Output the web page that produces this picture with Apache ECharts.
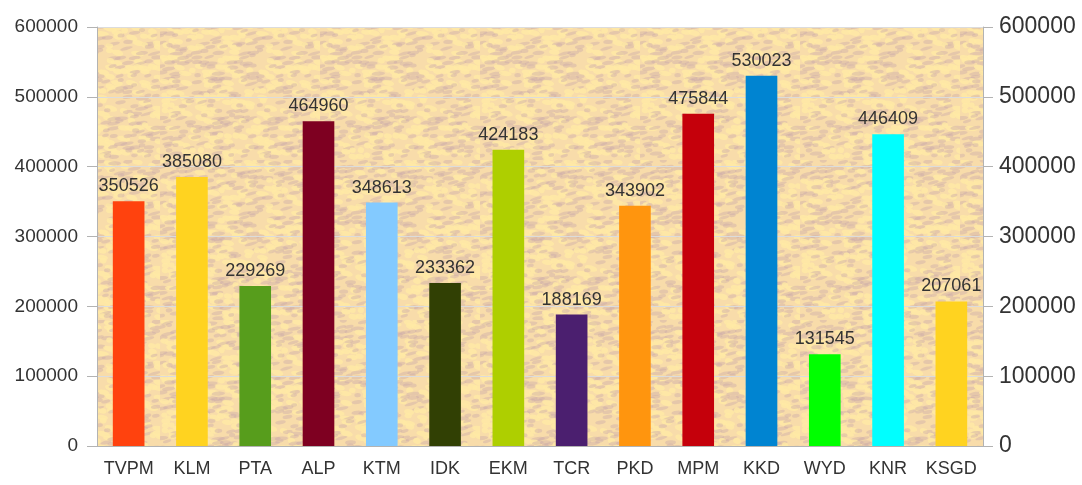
<!DOCTYPE html>
<html>
<head>
<meta charset="utf-8">
<script src="https://cdn.jsdelivr.net/npm/echarts@6/dist/echarts.min.js"></script>
<style>
html, body { margin: 0; padding: 0; background: #fff; }
#chart { width: 1082px; height: 485px; }
</style>
</head>
<body>
<div id="chart"></div>
<script>
var districts = ['TVPM', 'KLM', 'PTA', 'ALP', 'KTM', 'IDK', 'EKM', 'TCR', 'PKD', 'MPM', 'KKD', 'WYD', 'KNR', 'KSGD'];
var counts = [350526, 385080, 229269, 464960, 348613, 233362, 424183, 188169, 343902, 475844, 530023, 131545, 446409, 207061];
var barColors = ['#ff420e', '#ffd320', '#579d1c', '#7e0021', '#83caff', '#314004', '#aecf00', '#4b1f6f',
	'#ff950e', '#c5000b', '#0084d1', '#00ff00', '#00ffff', '#ffd320'];

// parchment-like texture for the plot background (deterministic blotches)
function makeTexture() {
	var c = document.createElement('canvas');
	c.width = 160; c.height = 160;
	var ctx = c.getContext('2d');
	ctx.fillStyle = '#f8dcaa';
	ctx.fillRect(0, 0, 160, 160);
	var k = 0;
	for (var y = 0; y < 160; y += 5) {
		for (var x = 0; x < 160; x += 7) {
			k++;
			var h = Math.sin(k * 12.9898) * 43758.5453;
			h = h - Math.floor(h);
			var h2 = Math.sin(k * 78.233) * 12543.77;
			h2 = h2 - Math.floor(h2);
			var cx = x + h * 6, cy = y + h2 * 4;
			ctx.beginPath();
			ctx.ellipse(cx, cy, 3 + h2 * 4, 1.5 + h * 1.5, (h - 0.5) * 0.6, 0, Math.PI * 2);
			if (h < 0.45) {
				ctx.fillStyle = 'rgba(200,168,170,0.4)';
			} else if (h > 0.7) {
				ctx.fillStyle = 'rgba(255,234,165,0.8)';
			} else {
				continue;
			}
			ctx.fill();
		}
	}
	return c;
}

var myChart = echarts.init(document.getElementById('chart'));
var axisLineStyle = { color: '#b3b3b3' };

var option = {
	animation: false,
	grid: {
		left: 97, right: 99, top: 27, bottom: 39,
		show: true,
		borderWidth: 0,
		backgroundColor: { image: makeTexture(), repeat: 'repeat' }
	},
	xAxis: {
		type: 'category',
		data: districts,
		axisLine: { lineStyle: axisLineStyle },
		axisTick: { length: 10, lineStyle: axisLineStyle },
		axisLabel: { color: '#333', fontSize: 18, fontFamily: 'Liberation Sans', margin: 14, interval: 0 }
	},
	yAxis: [{
		type: 'value', min: 0, max: 600000, interval: 100000,
		axisLine: { show: true, lineStyle: axisLineStyle },
		axisTick: { show: true, length: 10, lineStyle: axisLineStyle },
		axisLabel: {
			color: '#333', fontSize: 19, fontFamily: 'Liberation Sans', margin: 19,
			formatter: function(v) { return String(v); }
		},
		splitLine: { lineStyle: { color: '#dcdcdc' } }
	}, {
		type: 'value', min: 0, max: 600000, interval: 100000, position: 'right',
		axisLine: { show: true, lineStyle: axisLineStyle },
		axisTick: { show: true, length: 10, lineStyle: axisLineStyle },
		axisLabel: {
			color: '#333', fontSize: 23, fontFamily: 'Liberation Sans', margin: 16,
			formatter: function(v) { return String(v); }
		},
		splitLine: { show: false }
	}],
	series: [{
		type: 'bar',
		barWidth: '50%',
		data: counts.map(function(v, i) {
			return { value: v, itemStyle: { color: barColors[i] } };
		}),
		label: {
			show: true, position: 'top', distance: 6,
			color: '#333', fontSize: 18, fontFamily: 'Liberation Sans'
		}
	}]
};
myChart.setOption(option);
</script>
</body>
</html>
